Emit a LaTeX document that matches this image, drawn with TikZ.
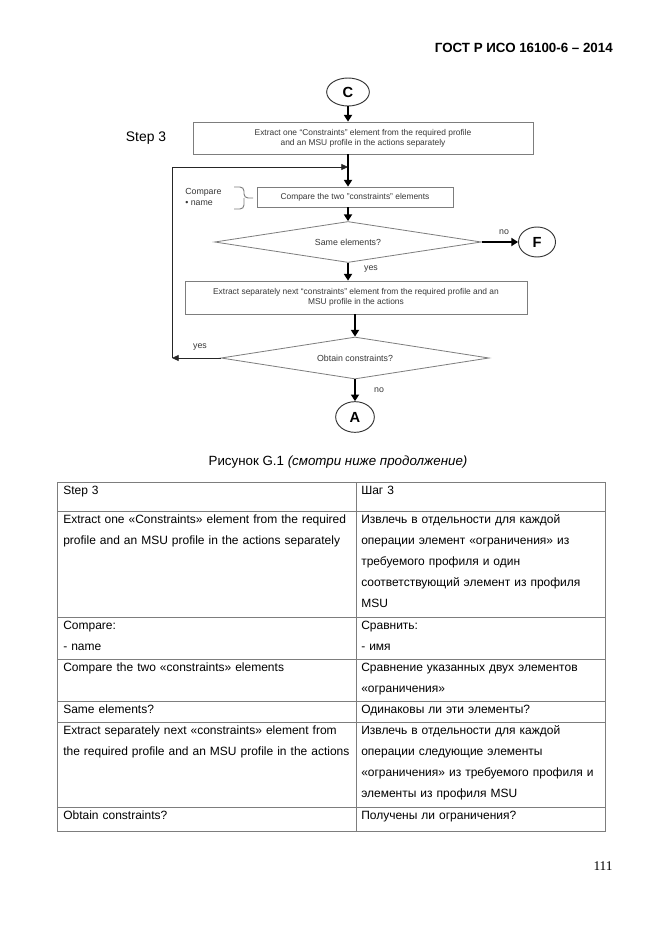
\documentclass[tikz,border=0pt]{standalone}
\usepackage{fontspec}
\setmainfont{Liberation Sans}
\newfontfamily\pagefont{Liberation Serif}
\usepackage{xcolor}
\definecolor{lngray}{RGB}{125,125,125}
\definecolor{txgray}{RGB}{55,55,55}
\usetikzlibrary{arrows.meta,positioning,shapes.geometric}
\tikzset{
  box/.style={draw=lngray,line width=0.6pt,align=center,inner sep=2pt,font=\fontsize{6.3}{7.6}\selectfont,text=txgray},
  decision/.style={diamond,aspect=6.5,draw=lngray,line width=0.6pt,inner sep=0pt,font=\fontsize{6.6}{8}\selectfont,text=txgray},
  term/.style={ellipse,draw=black!80,line width=0.7pt,inner sep=0pt,font=\fontsize{11}{12}\selectfont\bfseries},
  flow/.style={-{Triangle[length=5pt,width=6pt]},line width=1.8pt},
  loopflow/.style={-{Triangle[length=5pt,width=4.5pt]},line width=0.6pt,draw=black!85},
  lbl/.style={font=\fontsize{6.6}{8.25}\selectfont,text=txgray,inner sep=0pt},
  cell/.style={anchor=base west,inner sep=0pt,text width=240pt,align=left,font=\fontsize{9}{15.75}\selectfont},
  rule/.style={draw=lngray,line width=0.6pt},
}
\begin{document}
\begin{tikzpicture}[x=0.75pt,y=-0.75pt]
\useasboundingbox[fill=white] (0,0) rectangle (661,935);
\node[anchor=east,inner sep=0pt,font=\fontsize{10}{12}\selectfont\bfseries] (gost) at (613,48) {ГОСТ Р ИСО 16100-6 – 2014};
% flowchart
\node[term,minimum width=32pt,minimum height=21pt] (C) at (348,92) {C};
\node[inner sep=0pt,font=\fontsize{10.4}{12}\selectfont] (step) at (146,138) {Step 3};
\node[box,minimum width=255pt,minimum height=24pt] (extract) at (363,138) {Extract one “Constraints” element from the required profile\\and an MSU profile in the actions separately};
\node[box,minimum width=147pt,minimum height=15pt] (compare) at (355,197) {Compare the two "constraints" elements};
\node[lbl,align=left,anchor=west] (cmpnote) at (185,197) {Compare\\• name};
\node[decision,minimum width=200pt,minimum height=30.75pt] (same) at (348,242) {Same elements?};
\node[term,minimum width=27.75pt,minimum height=22.5pt] (F) at (537,242) {F};
\node[box,minimum width=256.5pt,minimum height=24.75pt] (next) at (356,297.5) {Extract separately next “constraints” element from the required profile and an\\MSU profile in the actions};
\node[decision,minimum width=201pt,minimum height=31.5pt] (obtain) at (355,358) {Obtain constraints?};
\node[term,minimum width=29pt,minimum height=23pt] (A) at (355,417) {A};
% brace
\coordinate (brT) at (234,187);
\coordinate (brB) at (234,209);
\coordinate (brM) at (244,198);
\coordinate (brTip) at (253,198);
\draw[lngray,line width=0.7pt,rounded corners=3pt] (brT) -| (brM) -- (brTip);
\draw[lngray,line width=0.7pt,rounded corners=3pt] (brB) -| (brM);
% flows
\draw[flow] (C) -- (C |- extract.north);
\draw[flow] (C |- extract.south) -- (C |- compare.north);
\draw[flow] (same.north |- compare.south) -- (same.north);
\draw[flow] (same.east) -- (F);
\draw[flow] (same.south) -- (same.south |- next.north);
\draw[flow] (obtain.north |- next.south) -- (obtain.north);
\draw[flow] (obtain.south) -- (A);
\coordinate (loopB) at (172,358);
\coordinate (loopT) at (172,167);
\draw[loopflow] (obtain.west) -- (loopB);
\draw[loopflow] (loopB) -- (loopT) -- (loopT -| C);
\node[lbl] (noF) at (504,232) {no};
\node[lbl] (yesS) at (371,269) {yes};
\node[lbl] (yesO) at (200,347) {yes};
\node[lbl] (noO) at (379,390) {no};
% caption
\node[inner sep=0pt,font=\fontsize{10}{12}\selectfont] (cap) at (338,462) {Рисунок G.1 \textit{(смотри ниже продолжение)}};
% table
\draw[rule] (57,482) rectangle (605,831);
\draw[rule] (356,482) -- (356,831);
\foreach \y in {511,617,659,701,722,807}
  \draw[rule] (57,\y) -- (605,\y);
\node[cell] (r1l) at (63,494) {Step 3};
\node[cell] (r1r) at (361,494) {Шаг 3};
\node[cell] (r2l) at (63,523) {Extract one «Constraints» element from the required\\profile and an MSU profile in the actions separately};
\node[cell] (r2r) at (361,523) {Извлечь в отдельности для каждой\\операции элемент «ограничения» из\\требуемого профиля и один\\соответствующий элемент из профиля\\MSU};
\node[cell] (r3l) at (63,629) {Compare:\\- name};
\node[cell] (r3r) at (361,629) {Сравнить:\\- имя};
\node[cell] (r4l) at (63,671) {Compare the two «constraints» elements};
\node[cell] (r4r) at (361,671) {Сравнение указанных двух элементов\\«ограничения»};
\node[cell] (r5l) at (63,713) {Same elements?};
\node[cell] (r5r) at (361,713) {Одинаковы ли эти элементы?};
\node[cell] (r6l) at (63,734) {Extract separately next «constraints» element from\\the required profile and an MSU profile in the actions};
\node[cell] (r6r) at (361,734) {Извлечь в отдельности для каждой\\операции следующие элементы\\«ограничения» из требуемого профиля и\\элементы из профиля MSU};
\node[cell] (r7l) at (63,819) {Obtain constraints?};
\node[cell] (r7r) at (361,819) {Получены ли ограничения?};
\node[inner sep=0pt,font=\pagefont\fontsize{10}{12}\selectfont] (pg) at (603,866) {111};
\end{tikzpicture}
\end{document}
